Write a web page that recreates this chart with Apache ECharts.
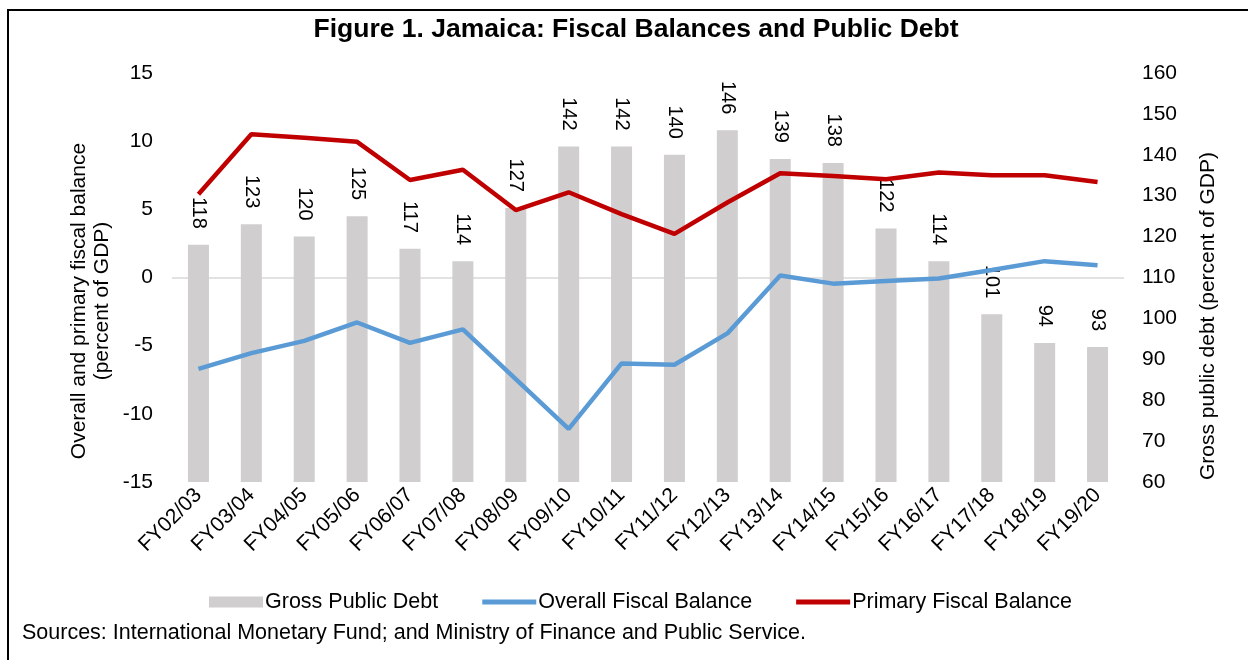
<!DOCTYPE html>
<html>
<head>
<meta charset="utf-8">
<script src="https://cdn.jsdelivr.net/npm/echarts@6/dist/echarts.min.js"></script>
<style>
  html, body { margin: 0; padding: 0; background: #fff; }
  #chart { width: 1248px; height: 660px; }
</style>
</head>
<body>
<div id="chart"></div>
<script>
// Fiscal years on the horizontal axis
const years = ['FY02/03','FY03/04','FY04/05','FY05/06','FY06/07','FY07/08','FY08/09','FY09/10','FY10/11',
  'FY11/12','FY12/13','FY13/14','FY14/15','FY15/16','FY16/17','FY17/18','FY18/19','FY19/20'];

// Gross public debt, percent of GDP (right axis)
const grossDebt = [118, 123, 120, 125, 117, 114, 127, 142, 142, 140, 146, 139, 138, 122, 114, 101, 94, 93];

// Overall fiscal balance, percent of GDP (left axis)
const overallBalance = [-6.7, -5.55, -4.65, -3.3, -4.8, -3.8, -7.45, -11.1, -6.3, -6.4, -4.1, 0.15, -0.45, -0.25, -0.07, 0.55, 1.2, 0.9];

// Primary fiscal balance, percent of GDP (left axis)
const primaryBalance = [6.1, 10.5, 10.25, 9.95, 7.15, 7.9, 4.95, 6.25, 4.65, 3.2, 5.5, 7.65, 7.45, 7.2, 7.7, 7.5, 7.5, 7.0];

const FONT = 'Liberation Sans, Arial, sans-serif';
const FS = 21;
const FS_NOTE = 21.5;
// flat bar used as the legend swatch for the two line series
const LINE_ICON = 'path://M0,0 L55,0 L55,5 L0,5 Z';

const chart = echarts.init(document.getElementById('chart'), null, { renderer: 'canvas' });

chart.setOption({
  backgroundColor: '#ffffff',
  animation: false,
  textStyle: { fontFamily: FONT, color: '#000' },
  title: {
    text: 'Figure 1. Jamaica: Fiscal Balances and Public Debt',
    left: 631,
    textAlign: 'center',
    top: 11,
    textStyle: { fontFamily: FONT, fontSize: 26.5, fontWeight: 'bold', color: '#000' }
  },
  grid: { left: 172, right: 124, top: 73, bottom: 178, containLabel: false },
  legend: {
    left: 204,
    top: 586,
    itemWidth: 54,
    itemHeight: 11,
    itemGap: 44,
    textStyle: { fontFamily: FONT, fontSize: FS_NOTE, color: '#000', padding: [0, 0, 0, -3] },
    data: [
      { name: 'Gross Public Debt', icon: 'rect' },
      { name: 'Overall Fiscal Balance', icon: LINE_ICON },
      { name: 'Primary Fiscal Balance', icon: LINE_ICON }
    ]
  },
  xAxis: {
    type: 'category',
    data: years,
    boundaryGap: true,
    axisLine: { show: false, onZero: false },
    axisTick: { show: false },
    axisLabel: { rotate: 45, interval: 0, fontSize: FS, color: '#000', fontFamily: FONT, margin: 10 },
    splitLine: { show: false }
  },
  yAxis: [
    {
      type: 'value',
      min: -15, max: 15, interval: 5,
      axisLine: { show: false },
      axisTick: { show: false },
      splitLine: { show: false },
      axisLabel: { fontSize: FS, color: '#000', fontFamily: FONT, margin: 19 }
    },
    {
      type: 'value',
      min: 60, max: 160, interval: 10,
      position: 'right',
      axisLine: { show: false },
      axisTick: { show: false },
      splitLine: { show: false },
      axisLabel: { fontSize: FS, color: '#000', fontFamily: FONT, margin: 18 }
    }
  ],
  series: [
    {
      name: 'Gross Public Debt',
      type: 'bar',
      yAxisIndex: 1,
      data: grossDebt,
      barWidth: 21,
      itemStyle: { color: '#d0cece' },
      z: 1,
      label: {
        show: true,
        position: 'top',
        rotate: -90,
        align: 'right',
        verticalAlign: 'middle',
        distance: 16,
        fontSize: 20,
        color: '#000',
        fontFamily: FONT
      }
    },
    {
      name: 'Overall Fiscal Balance',
      type: 'line',
      yAxisIndex: 0,
      data: overallBalance,
      symbol: 'none',
      lineStyle: { color: '#5b9bd5', width: 4.5 },
      itemStyle: { color: '#5b9bd5' },
      z: 3,
      markLine: {
        silent: true,
        symbol: ['none', 'none'],
        label: { show: false },
        lineStyle: { color: '#d9d9d9', width: 1.5, type: 'solid' },
        data: [{ yAxis: 0 }],
        z: 0
      }
    },
    {
      name: 'Primary Fiscal Balance',
      type: 'line',
      yAxisIndex: 0,
      data: primaryBalance,
      symbol: 'none',
      lineStyle: { color: '#c00000', width: 4.5 },
      itemStyle: { color: '#c00000' },
      z: 3
    }
  ],
  graphic: [
    {
      type: 'rect',
      silent: true,
      shape: { x: 8, y: 10, width: 1300, height: 700 },
      style: { fill: 'none', stroke: '#000', lineWidth: 2 }
    },
    {
      type: 'text',
      x: 91, y: 301,
      rotation: Math.PI / 2,
      style: {
        text: 'Overall and primary fiscal balance\n(percent of GDP)',
        fontFamily: FONT, fontSize: FS, fill: '#000',
        align: 'center', verticalAlign: 'middle', lineHeight: 23
      }
    },
    {
      type: 'text',
      x: 1208, y: 316,
      rotation: Math.PI / 2,
      style: {
        text: 'Gross public debt (percent of GDP)',
        fontFamily: FONT, fontSize: FS, fill: '#000',
        align: 'center', verticalAlign: 'middle'
      }
    },
    {
      type: 'text',
      x: 22, y: 633,
      style: {
        text: 'Sources: International Monetary Fund; and Ministry of Finance and Public Service.',
        fontFamily: FONT, fontSize: FS_NOTE, fill: '#000',
        align: 'left', verticalAlign: 'middle'
      }
    }
  ]
});
</script>
</body>
</html>
